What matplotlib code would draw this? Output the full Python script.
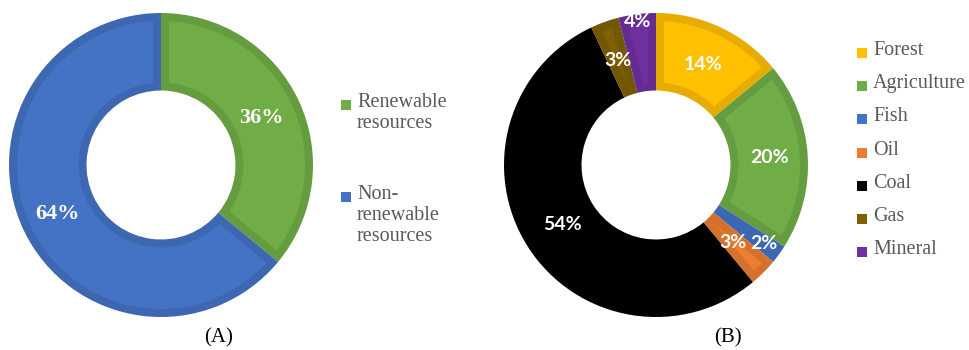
import numpy as np
import matplotlib
matplotlib.use('Agg')
from matplotlib import pyplot as plt
from matplotlib.patches import Rectangle, Polygon
import matplotlib.colors as mcolors

## Data
res_labels = ['Renewable\nresources', 'Non-\nrenewable\nresources']
res_share = [36, 64]
res_colors = ['#70AD47', '#4472C4']

sector_labels = ['Forest', 'Agriculture', 'Fish', 'Oil', 'Coal', 'Gas', 'Mineral']
sector_share = [14, 20, 2, 3, 54, 3, 4]
sector_colors = ['#FFC000', '#70AD47', '#4472C4', '#ED7D31', '#000000', '#7F6000', '#7030A0']

## Label radius (fraction of outer radius) for each slice
res_label_r = [0.73, 0.75]
sector_label_r = [0.73, 0.75, 0.88, 0.72, 0.73, 0.73, 0.95]

W, H = 969, 350
fig = plt.figure(figsize=(W/100., H/100.), dpi=100)

def darker(c, f=0.9):
    r, g, b = mcolors.to_rgb(c)
    return (r*f, g*f, b*f)

def inset_sector(t1, t2, r_in, r_out, d):
    ## annular sector shrunk by a constant distance d on every side
    half = np.deg2rad(t2 - t1) / 2.
    ro = r_out - d
    ri = max(r_in + d, d / np.sin(half) if half > 0 else ro)
    if ri >= ro:
        return None
    do = np.rad2deg(np.arcsin(d / ro))
    di = np.rad2deg(np.arcsin(min(d / ri, 1.0)))
    a_out = np.deg2rad(np.linspace(t1 + do, t2 - do, 80))
    a_in = np.deg2rad(np.linspace(t2 - di, t1 + di, 80))
    xy = np.concatenate([np.c_[ro*np.cos(a_out), ro*np.sin(a_out)],
                         np.c_[ri*np.cos(a_in), ri*np.sin(a_in)]])
    return xy

def donut(cx, cy, R, hole, values, colors, label_r, font, fsize, border=8):
    ## cx, cy, R in pixels (cy from top)
    ax = fig.add_axes([(cx-R)/W, (H-cy-R)/H, 2.*R/W, 2.*R/H])
    edge = [darker(c) for c in colors]
    wedges, _ = ax.pie(values, colors=edge, startangle=90, counterclock=False,
                       radius=1.0, wedgeprops=dict(width=1.0-hole, linewidth=0))
    d = float(border) / R
    for w, c in zip(wedges, colors):
        t1, t2 = sorted([w.theta1, w.theta2])
        xy = inset_sector(t1, t2, hole, 1.0, d)
        if xy is not None:
            ax.add_patch(Polygon(xy, closed=True, facecolor=c, edgecolor='none'))
    for w, v, r in zip(wedges, values, label_r):
        ang = np.deg2rad(0.5*(w.theta1 + w.theta2))
        ax.text(r*np.cos(ang), r*np.sin(ang), '%d%%' % v, color='white',
                ha='center', va='center', fontsize=fsize, fontweight='bold',
                family=font, zorder=5)
    ax.set_xlim(-1, 1)
    ax.set_ylim(-1, 1)
    ax.set_aspect('equal')
    ax.axis('off')
    return ax

donut(161, 165, 152, 0.49, res_share, res_colors, res_label_r, 'Liberation Serif', 16)
donut(656, 165, 152, 0.49, sector_share, sector_colors, sector_label_r, 'Lato', 14)

## Legends
grey = '#595959'
def legend_entry(x, y, label, color):
    ## y is the center of the first text line, in pixels from the top
    sq = 10
    fig.patches.append(Rectangle((x/W, (H-y-sq/2.)/H), sq/float(W), sq/float(H),
                                 transform=fig.transFigure, facecolor=color,
                                 edgecolor='none'))
    fig.text((x+16)/W, (H-y+12)/H, label, family='Liberation Serif', fontsize=14.5,
             color=grey, ha='left', va='top', linespacing=1.15)

left_y = [105, 197]
for lab, col, y in zip(res_labels, res_colors, left_y):
    legend_entry(341, y, lab, col)

for i, (lab, col) in enumerate(zip(sector_labels, sector_colors)):
    legend_entry(857, 53 + i*33.2, lab, col)

fig.text(219/W, (H-338)/H, '(A)', family='Liberation Serif', fontsize=15,
         ha='center', va='center')
fig.text(728/W, (H-338)/H, '(B)', family='Liberation Serif', fontsize=15,
         ha='center', va='center')

fig.savefig('out.png', dpi=100)
